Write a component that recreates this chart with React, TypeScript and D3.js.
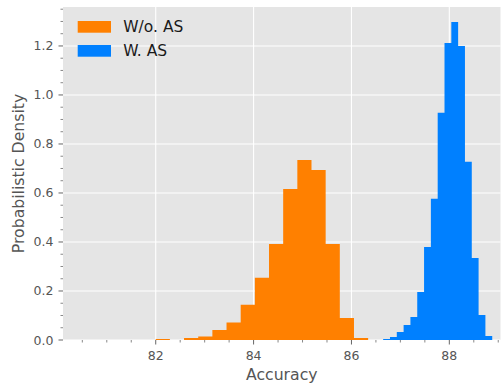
import React from 'react'
import * as d3 from 'd3'

// histogram densities
const seriesNames = ['W/o. AS', 'W. AS']
const seriesColors = ['#ff8000', '#0080ff']

const woStart = 82.0
const woBinWidth = 0.2894
const woDensity = [0.004, 0, 0.008, 0.014, 0.041, 0.071, 0.144, 0.254, 0.392, 0.616, 0.735, 0.694, 0.392, 0.09, 0.008]

const wStart = 86.648
const wBinWidth = 0.1393
const wDensity = [0.004, 0.012, 0.033, 0.061, 0.094, 0.196, 0.38, 0.576, 0.927, 1.212, 1.298, 1.2, 0.727, 0.335, 0.102, 0.016]

const xTicks = [82, 84, 86, 88]
const yTicks = [0, 0.2, 0.4, 0.6, 0.8, 1.0, 1.2]

const W = 501
const H = 383
const margin = { top: 7, right: 0.5, bottom: 43, left: 63 }
const font = 'DejaVu Sans, sans-serif'

const App: React.FC = () => {
  const innerW = W - margin.left - margin.right
  const innerH = H - margin.top - margin.bottom

  const x = d3.scaleLinear().domain([80.105, 89.046]).range([0, innerW])
  const y = d3.scaleLinear().domain([0, 1.359]).range([innerH, 0])

  const xMinor = d3.range(80.5, 89.01, 0.5).filter(v => !xTicks.some(t => Math.abs(t - v) < 1e-6))
  const yMinor = d3.range(0.05, 1.36, 0.05).filter(v => !yTicks.some(t => Math.abs(t - v) < 1e-6))

  // draw each histogram as a single stepped outline (no seams between bins)
  const area = d3.area<[number, number]>()
    .x(d => x(d[0]))
    .y0(innerH)
    .y1(d => y(d[1]))
    .curve(d3.curveStepAfter)

  const histPath = (start: number, width: number, dens: number[]) => {
    const pts: [number, number][] = dens.map((d, i) => [start + i * width, d])
    pts.push([start + dens.length * width, dens[dens.length - 1]])
    return area(pts) || ''
  }

  const paths = [histPath(woStart, woBinWidth, woDensity), histPath(wStart, wBinWidth, wDensity)]

  return (
    <div style={{ position: 'fixed', left: 0, top: 0 }}>
      <svg width={W} height={H} style={{ display: 'block', background: '#fff' }} fontFamily={font}>
        <g transform={`translate(${margin.left},${margin.top})`}>
          {/* panel */}
          <rect width={innerW} height={innerH} fill="#e5e5e5" />
          {/* grid */}
          {xTicks.map(t => (
            <line key={'gx' + t} x1={x(t)} x2={x(t)} y1={0} y2={innerH} stroke="#fff" strokeWidth={1.1} />
          ))}
          {yTicks.map(t => (
            <line key={'gy' + t} x1={0} x2={innerW} y1={y(t)} y2={y(t)} stroke="#fff" strokeWidth={1.1} />
          ))}
          {/* bars */}
          {paths.map((d, i) => (
            <path key={i} d={d} fill={seriesColors[i]} />
          ))}
          {/* x axis ticks */}
          {xTicks.map(t => (
            <g key={'xt' + t}>
              <line x1={x(t)} x2={x(t)} y1={innerH} y2={innerH + 4.5} stroke="#555" strokeWidth={0.9} />
              <text x={x(t)} y={innerH + 20} textAnchor="middle" fontSize={12.5} fill="#555">{t}</text>
            </g>
          ))}
          {xMinor.map(t => (
            <line key={'xm' + t} x1={x(t)} x2={x(t)} y1={innerH} y2={innerH + 2.5} stroke="#555" strokeWidth={0.7} />
          ))}
          {/* y axis ticks */}
          {yTicks.map(t => (
            <g key={'yt' + t}>
              <line x1={-4.5} x2={0} y1={y(t)} y2={y(t)} stroke="#555" strokeWidth={0.9} />
              <text x={-9.5} y={y(t)} dy="0.36em" textAnchor="end" fontSize={12.5} fill="#555">{t.toFixed(1)}</text>
            </g>
          ))}
          {yMinor.map(t => (
            <line key={'ym' + t} x1={-2.5} x2={0} y1={y(t)} y2={y(t)} stroke="#555" strokeWidth={0.7} />
          ))}
          {/* axis labels */}
          <text x={innerW / 2} y={innerH + 40} textAnchor="middle" fontSize={15.7} fill="#555">Accuracy</text>
          <text transform={`translate(${24 - margin.left},${innerH / 2}) rotate(-90)`} textAnchor="middle" fontSize={15.7} fill="#555">Probabilistic Density</text>
          {/* legend */}
          {seriesNames.map((name, i) => (
            <g key={name} transform={`translate(${77.7 - margin.left},${21 - margin.top + i * 24})`}>
              <rect width={33.3} height={11.7} fill={seriesColors[i]} />
              <text x={45.6} y={5.85} dy="0.36em" fontSize={15.5} fill="#1a1a1a">{name}</text>
            </g>
          ))}
        </g>
      </svg>
    </div>
  )
}

export default App
